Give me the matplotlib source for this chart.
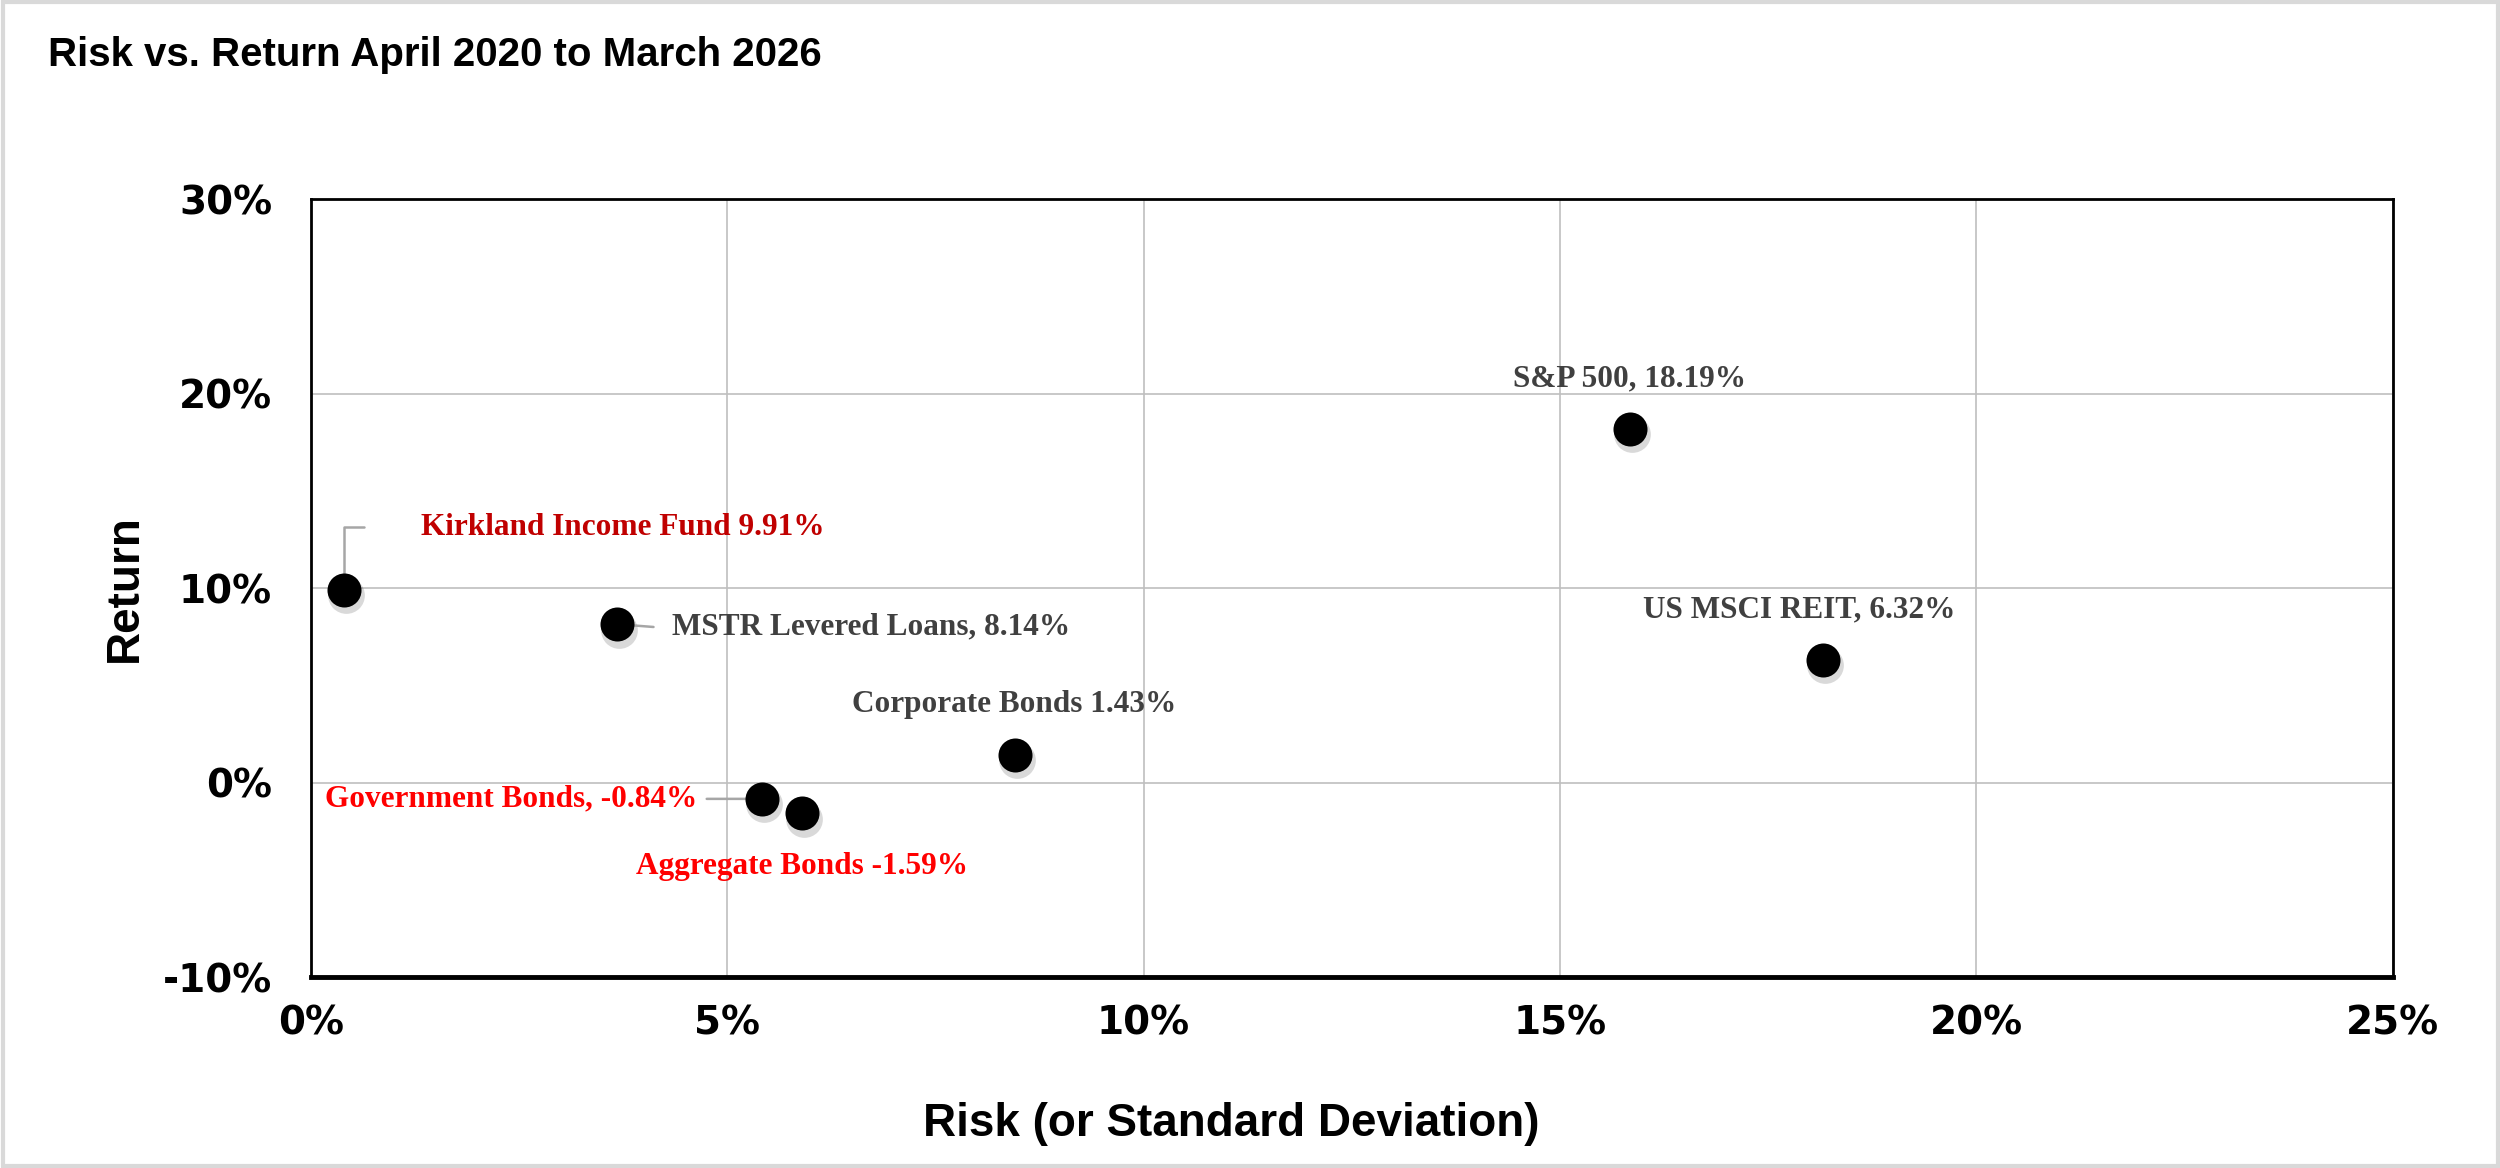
import matplotlib
matplotlib.use("Agg")
import matplotlib.pyplot as plt
from matplotlib.transforms import offset_copy
from matplotlib.ticker import FuncFormatter

# data (risk %, return %)
names = ["Kirkland Income Fund", "MSTR Levered Loans", "Government Bonds",
         "Aggregate Bonds", "Corporate Bonds", "S&P 500", "US MSCI REIT"]
risk = [0.40, 3.68, 5.42, 5.90, 8.45, 15.84, 18.16]
ret = [9.91, 8.14, -0.84, -1.59, 1.43, 18.19, 6.32]
labels = ["Kirkland Income Fund 9.91%", "MSTR Levered Loans, 8.14%",
          "Government Bonds, -0.84%", "Aggregate Bonds -1.59%",
          "Corporate Bonds 1.43%", "S&P 500, 18.19%", "US MSCI REIT, 6.32%"]
label_colors = ["#C00000", "#404040", "#FF0000", "#FF0000",
                "#404040", "#404040", "#404040"]
x_ticks = [0, 5, 10, 15, 20, 25]
y_ticks = [-10, 0, 10, 20, 30]

# label placement (offset points, alignment)
offsets = [(55, 45), (39, -2), (-47, 0), (0, -38), (0, 36), (0, 36), (-17, 36)]
aligns = ["left", "left", "right", "center", "center", "center", "center"]

fig = plt.figure(figsize=(25, 11.68), dpi=100)
ax = fig.add_axes([0.1244, 0.1635, 0.8326, 0.6661])

ax.set_xlim(0, 25)
ax.set_ylim(-10, 30)
ax.set_xticks(x_ticks)
ax.set_yticks(y_ticks)
pct = FuncFormatter(lambda v, p: f"{v:.0f}%")
ax.xaxis.set_major_formatter(pct)
ax.yaxis.set_major_formatter(pct)
ax.grid(True, color="#BFBFBF", lw=1.2)
ax.set_axisbelow(True)
for s in ax.spines.values():
    s.set_color("black")
    s.set_linewidth(2)
ax.spines["bottom"].set_linewidth(3.5)
ax.tick_params(length=0)
ax.tick_params(axis="x", pad=20)
ax.tick_params(axis="y", pad=28)
for t in ax.get_xticklabels() + ax.get_yticklabels():
    t.set_fontfamily("DejaVu Sans")
    t.set_fontweight("heavy")
    t.set_fontsize(28)

# shadow + markers
shadow = offset_copy(ax.transData, fig=fig, x=1.5, y=-4, units="points")
ax.scatter(risk, ret, s=700, color="#000000", alpha=0.15, lw=0,
           transform=shadow, zorder=3)
ax.scatter(risk, ret, s=600, color="black", lw=0, zorder=4)

# leader lines
lead = dict(arrowstyle="-", color="#A6A6A6", lw=1.8, shrinkA=0, shrinkB=0)
ax.annotate("", xy=(risk[0], ret[0]), xytext=(14, 45), textcoords="offset points",
            arrowprops=dict(lead, connectionstyle="angle,angleA=0,angleB=90,rad=0"),
            zorder=3.5)
ax.annotate("", xy=(risk[1], ret[1]), xytext=(26, -2), textcoords="offset points",
            arrowprops=lead, zorder=3.5)
ax.annotate("", xy=(risk[2], ret[2]), xytext=(-40, 0), textcoords="offset points",
            arrowprops=lead, zorder=3.5)

for i in range(len(names)):
    ax.annotate(labels[i], xy=(risk[i], ret[i]), xytext=offsets[i],
                textcoords="offset points", ha=aligns[i], va="center",
                color=label_colors[i], fontsize=22.5, fontweight="bold",
                fontfamily="Liberation Serif", zorder=5)

ax.set_xlabel("Risk (or Standard Deviation)", fontsize=33, fontweight="bold",
              fontfamily="Liberation Sans")
ax.xaxis.set_label_coords(0.442, -0.16)
ax.set_ylabel("Return", fontsize=33, fontweight="bold", fontfamily="Liberation Sans")
ax.yaxis.set_label_coords(-0.079, 0.5)

fig.text(0.019, 0.953, "Risk vs. Return April 2020 to March 2026", fontsize=29,
         fontweight="bold", fontfamily="Liberation Sans", ha="left", va="center")

# light frame around the whole chart
fig.patches.append(plt.Rectangle((0.001, 0.002), 0.998, 0.996, transform=fig.transFigure,
                                 fill=False, edgecolor="#D9D9D9", lw=3))

fig.savefig("out.png", dpi=100, facecolor="white")
